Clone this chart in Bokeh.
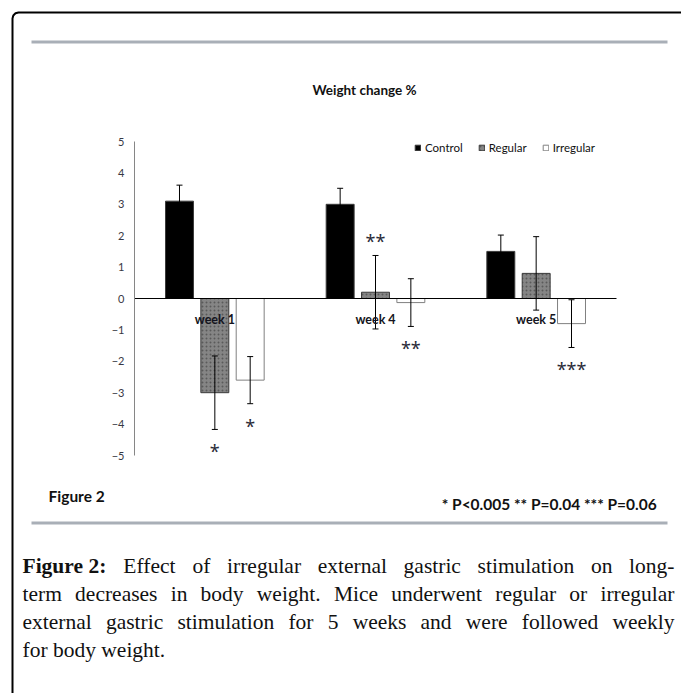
from bokeh.plotting import figure
from bokeh.models import (Range1d, FixedTicker, Legend, LegendItem, Label, LinearAxis,
                          PolyAnnotation, ColumnDataSource)
from bokeh.core.properties import value
from bokeh.embed import file_html
from bokeh.resources import INLINE

# ---------------- data ----------------
weeks = ["week 1", "week 4", "week 5"]
series_names = ["Control", "Regular", "Irregular"]
control = [3.1, 3.0, 1.5]
control_err = [0.51, 0.51, 0.52]
regular = [-3.0, 0.2, 0.8]
regular_err = [1.17, 1.17, 1.17]
irregular = [-2.6, -0.13, -0.8]
irregular_err = [0.75, 0.76, 0.76]
regular_sig = ["*", "**", ""]
irregular_sig = ["*", "**", "***"]
y_ticks = [-5, -4, -3, -2, -1, 0, 1, 2, 3, 4, 5]

chart_title = "Weight change %"
figure_tag = "Figure 2"
p_note = "* P<0.005  ** P=0.04 *** P=0.06"
caption_lines = [
    [("Figure 2:", True)] + [(w, False) for w in "Effect of irregular external gastric stimulation on long-".split()],
    [(w, False) for w in "term decreases in body weight. Mice underwent regular or irregular".split()],
    [(w, False) for w in "external gastric stimulation for 5 weeks and were followed weekly".split()],
    [(w, False) for w in "for body weight.".split()],
]

# ---------------- layout constants (page px) ----------------
W, H = 681, 693
F_LEFT, F_TOP, F_RIGHT, F_BOTTOM = 134, 141, 616, 455   # plot area of the chart
Y_MIN, Y_MAX = -5, 5
NCAT = len(weeks)

ux = NCAT / (F_RIGHT - F_LEFT)          # data units per px (x)
uy = (Y_MAX - Y_MIN) / (F_BOTTOM - F_TOP)  # data units per px (y)
x_range = Range1d(-F_LEFT * ux, NCAT + (W - F_RIGHT) * ux)
y_range = Range1d(Y_MIN - (H - F_BOTTOM) * uy, Y_MAX + F_TOP * uy)


def sx(px):
    return px


def sy(py):
    return H - py


p = figure(x_range=x_range, y_range=y_range, width=W, height=H,
           output_backend="svg", toolbar_location=None,
           x_axis_type=None, y_axis_type=None, min_border=0)
p.outline_line_color = None
p.grid.visible = False
p.background_fill_color = "white"
p.border_fill_color = "white"

BW = 0.174
OFF = [-0.22, 0.0, 0.22]
centers = [i + 0.5 for i in range(NCAT)]

src = ColumnDataSource(dict(
    xc=[c + OFF[0] for c in centers],
    xr=[c + OFF[1] for c in centers],
    xi=[c + OFF[2] for c in centers],
    control=control, regular=regular, irregular=irregular,
    c_hi=[v + e for v, e in zip(control, control_err)],
    c_lo=[v - e for v, e in zip(control, control_err)],
    r_hi=[v + e for v, e in zip(regular, regular_err)],
    r_lo=[v - e for v, e in zip(regular, regular_err)],
    i_hi=[v + e for v, e in zip(irregular, irregular_err)],
    i_lo=[v - e for v, e in zip(irregular, irregular_err)],
))

r_c = p.vbar(x="xc", top="control", bottom=0, width=BW, source=src,
             fill_color="black", line_color="#3a3a3a", line_width=1)
r_r = p.vbar(x="xr", top="regular", bottom=0, width=BW, source=src,
             fill_color="#858585", line_color="#3a3a3a", line_width=1,
             hatch_pattern="dot", hatch_color="#5a5a5a", hatch_scale=4, hatch_weight=1)
r_i = p.vbar(x="xi", top="irregular", bottom=0, width=BW, source=src,
             fill_color="white", line_color="#808080", line_width=1)

for xcol, hi, lo in zip(["xc", "xr", "xi"], ["c_hi", "r_hi", "i_hi"], ["c_lo", "r_lo", "i_lo"]):
    p.segment(x0=xcol, y0=lo, x1=xcol, y1=hi, source=src, line_color="black", line_width=1)
    p.scatter(x=xcol, y=hi, source=src, marker="dash", size=6, line_color="black", line_width=1)
    p.scatter(x=xcol, y=lo, source=src, marker="dash", size=6, line_color="black", line_width=1)

# significance stars
star_x, star_y, star_t, star_o = [], [], [], []
for sig, vals, errs, off in [(regular_sig, regular, regular_err, OFF[1]),
                             (irregular_sig, irregular, irregular_err, OFF[2])]:
    for c, s, v, e in zip(centers, sig, vals, errs):
        if not s:
            continue
        star_x.append(c + off)
        star_t.append(s)
        if v > 0:
            star_y.append(v + e)
            star_o.append(-14)
        else:
            star_y.append(v - e)
            star_o.append(22)
star_src = ColumnDataSource(dict(x=star_x, y=star_y, t=star_t, o=star_o))
p.text(x="x", y="y", text="t", source=star_src,
       y_offset="o", text_align="center", text_baseline="alphabetic",
       text_font=value("Noto Sans"), text_font_size="18px", text_color="#2a2a38")

# axes
xaxis = LinearAxis(fixed_location=0, bounds=(0, NCAT),
                   ticker=FixedTicker(ticks=centers),
                   major_label_overrides={c: w for c, w in zip(centers, weeks)})
xaxis.axis_line_color = "black"
xaxis.axis_line_width = 1
xaxis.major_tick_line_color = None
xaxis.minor_tick_line_color = None
xaxis.major_tick_out = 0
xaxis.major_tick_in = 0
xaxis.major_label_text_font = "Lato"
xaxis.major_label_text_font_style = "bold"
xaxis.major_label_text_font_size = "12.5px"
xaxis.major_label_text_color = "#141420"
xaxis.major_label_standoff = 13
p.add_layout(xaxis, "below")

yaxis = LinearAxis(fixed_location=0, bounds=(Y_MIN, Y_MAX), ticker=FixedTicker(ticks=y_ticks))
yaxis.axis_line_color = "#868686"
yaxis.major_tick_line_color = None
yaxis.minor_tick_line_color = None
yaxis.major_tick_out = 0
yaxis.major_tick_in = 0
yaxis.major_label_text_font = "Lato"
yaxis.major_label_text_font_size = "11px"
yaxis.major_label_text_color = "#383844"
yaxis.major_label_standoff = 10
p.add_layout(yaxis, "left")

# legend (location = bottom-left corner, y measured up)
legend = Legend(items=[LegendItem(label=series_names[0], renderers=[r_c]),
                       LegendItem(label=series_names[1], renderers=[r_r]),
                       LegendItem(label=series_names[2], renderers=[r_i])],
                orientation="horizontal", location=(sx(414), sy(154)),
                glyph_width=7, glyph_height=7, label_standoff=4, spacing=15,
                padding=0, margin=0, label_height=12,
                label_text_font="Lato", label_text_font_size="11.5px",
                label_text_color="#111111",
                border_line_alpha=0, background_fill_alpha=0)
p.add_layout(legend)

# ---------------- decorations ----------------
border = PolyAnnotation(xs=[sx(800), sx(18), sx(15), sx(12.8), sx(12), sx(12), sx(800)],
                        ys=[sy(12), sy(12), sy(12.8), sy(15), sy(18), sy(800), sy(800)],
                        xs_units="screen", ys_units="screen",
                        fill_alpha=0, line_color="black", line_alpha=1, line_width=2)
p.add_layout(border)
for top_y in (40, 521):
    p.add_layout(PolyAnnotation(xs=[sx(31), sx(667), sx(667), sx(31)],
                                ys=[sy(top_y), sy(top_y), sy(top_y + 3), sy(top_y + 3)],
                                xs_units="screen", ys_units="screen",
                                fill_color="#a9afb7", fill_alpha=1, line_alpha=0))


def add_label(text, px, py, size, align="left", bold=False, font="Lato",
              baseline="middle", color="#1a1a1a"):
    p.add_layout(Label(x=sx(px), y=sy(py), x_units="screen", y_units="screen", text=text,
                       text_align=align, text_baseline=baseline, text_font=font,
                       text_font_style="bold" if bold else "normal",
                       text_font_size=f"{size}px", text_color=color))


add_label(chart_title, 364, 89, 13.5, align="center", bold=True, color="#111111")
add_label(figure_tag, 48, 495, 15.5, bold=True, color="#111111")
add_label(p_note, 660, 503, 15.5, align="right", bold=True, color="#111111")

# caption, justified (Times metrics per 1000 em)
TR = dict(zip("abcdefghijklmnopqrstuvwxyz",
              [444, 500, 444, 500, 444, 333, 500, 500, 278, 278, 500, 278, 778, 500, 500, 500,
               500, 333, 389, 278, 500, 500, 722, 500, 500, 444]))
TR.update({" ": 250, ".": 250, "-": 333, ":": 278, "2": 500, "5": 500,
           "E": 611, "F": 556, "M": 889})
TB = dict(TR)
TB.update({"F": 611, "u": 556, "r": 444, ":": 333, " ": 250})
CAP_SIZE = 21.5
CAP_L, CAP_R = 22, 674


def word_w(w, bold):
    t = TB if bold else TR
    return sum(t.get(c, 500) for c in w) * CAP_SIZE / 1000.0


for i, line in enumerate(caption_lines):
    base_y = 565 + 28 * i
    widths = [word_w(w, b) for w, b in line]
    if i < len(caption_lines) - 1:
        gap = (CAP_R - CAP_L - sum(widths)) / (len(line) - 1)
    else:
        gap = 250 * CAP_SIZE / 1000.0
    x = CAP_L
    for (w, b), ww in zip(line, widths):
        add_label(w, x, base_y, CAP_SIZE, bold=b, font="Liberation Serif",
                  baseline="alphabetic", color="#111111")
        x += ww + gap

open("out.html", "w").write(file_html(p, INLINE))
